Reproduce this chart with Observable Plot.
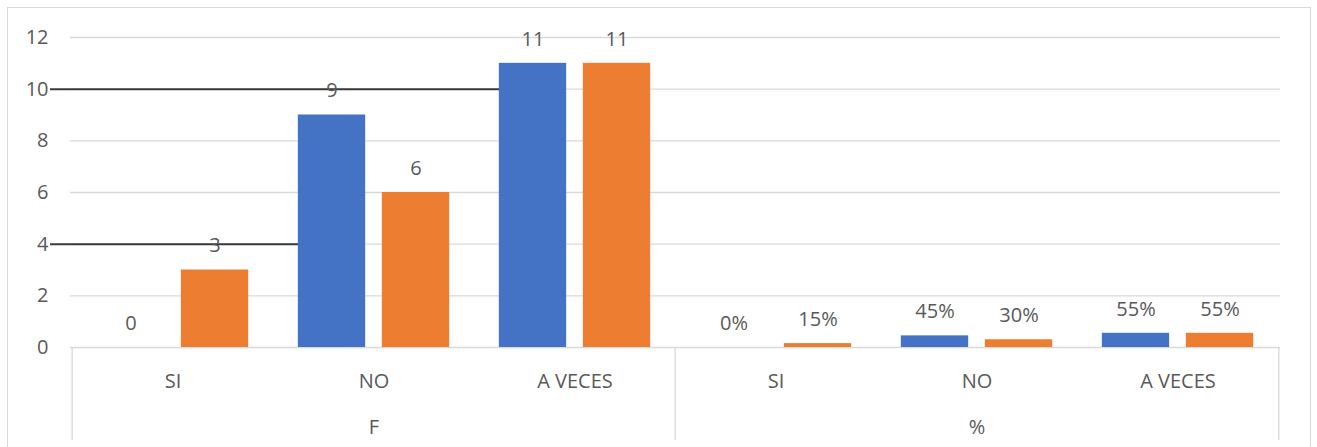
<!DOCTYPE html>
<html><head><meta charset="utf-8">
<script src="https://cdn.jsdelivr.net/npm/d3@7"></script>
<script src="https://cdn.jsdelivr.net/npm/@observablehq/plot@0.6"></script>
<style>body{margin:0;background:#fff}</style>
</head><body><div id="chart"></div>
<script>
const groups = ["F", "%"];
const categories = ["SI", "NO", "A VECES"];
const series = ["Serie1", "Serie2"];
const serie1F = [0, 9, 11];
const serie2F = [3, 6, 11];
const serie1Pct = [0, 0.45, 0.55];
const serie2Pct = [0.15, 0.30, 0.55];
const yTicks = [0, 2, 4, 6, 8, 10, 12];
const overlayLines = [{y: 10, until: "A VECES"}, {y: 4, until: "NO"}];

const W = 1317, H = 447, ML = 70, MR = 37, MT = 37, MB = 100;
const valuesBy = {F: {Serie1: serie1F, Serie2: serie2F}, "%": {Serie1: serie1Pct, Serie2: serie2Pct}};
const rows = [];
for (const g of groups) for (const s of series) categories.forEach((c, i) =>
  rows.push({key: g + "|" + c, group: g, category: c, series: s, value: valuesBy[g][s][i]}));
const keys = groups.flatMap(g => categories.map(c => g + "|" + c));
const bw = (W - ML - MR) / keys.length;
const fmt = d => d.group === "%" ? Math.round(d.value * 100) + "%" : String(d.value);
const colors = {Serie1: "#4472C4", Serie2: "#ED7D31"};
const barW = 68, gap = 16, outer = (bw - 2 * barW - gap) / 2;
const s1 = rows.filter(d => d.series === "Serie1");
const s2 = rows.filter(d => d.series === "Serie2");
const groupLabels = groups.map(g => ({key: g + "|" + categories[1], label: g}));
const leftEdges = groups.map(g => g + "|" + categories[0]);
const rightEdge = [groups[groups.length - 1] + "|" + categories[categories.length - 1]];
const dxLabel = (barW + gap) / 2;

const chart = Plot.plot({
  width: W, height: H,
  marginLeft: ML, marginRight: MR, marginTop: MT, marginBottom: MB,
  style: {fontFamily: "'Open Sans', sans-serif", fontSize: "20px", color: "#595959", background: "white"},
  x: {domain: keys, padding: 0, tickSize: 0, tickPadding: 26, tickFormat: k => k.split("|")[1], label: null},
  y: {domain: [0, 12], ticks: yTicks.length - 1, tickSize: 0, tickPadding: 22, label: null},
  marks: [
    Plot.frame({stroke: "#d9d9d9", insetLeft: -(ML - 7), insetTop: -(MT - 7), insetRight: -(MR - 7), insetBottom: -130}),
    Plot.ruleY(yTicks, {stroke: "#d9d9d9", strokeWidth: 1.3}),
    Plot.ruleX(leftEdges, {x: d => d, dx: -bw / 2, stroke: "#d9d9d9", strokeWidth: 1.3, insetTop: H - MT - MB, insetBottom: -93}),
    Plot.ruleX(rightEdge, {x: d => d, dx: bw / 2, stroke: "#d9d9d9", strokeWidth: 1.3, insetTop: H - MT - MB, insetBottom: -93}),
    Plot.ruleY(overlayLines, {y: "y", x1: () => keys[0], x2: d => groups[0] + "|" + d.until,
      insetLeft: -22, insetRight: 176, stroke: "#3a3a3a", strokeWidth: 2}),
    Plot.barY(s1, {x: "key", y: "value", fill: colors.Serie1, insetLeft: outer, insetRight: outer + barW + gap}),
    Plot.barY(s2, {x: "key", y: "value", fill: colors.Serie2, insetLeft: outer + barW + gap, insetRight: outer}),
    Plot.text(s1, {x: "key", y: "value", text: fmt, dx: -dxLabel, dy: -24, fill: "#595959"}),
    Plot.text(s2, {x: "key", y: "value", text: fmt, dx: dxLabel, dy: -24, fill: "#595959"}),
    Plot.text(groupLabels, {x: "key", y: () => 0, text: "label", dy: 80, fill: "#595959"})
  ]
});
document.getElementById("chart").appendChild(chart);
</script>
</body></html>
